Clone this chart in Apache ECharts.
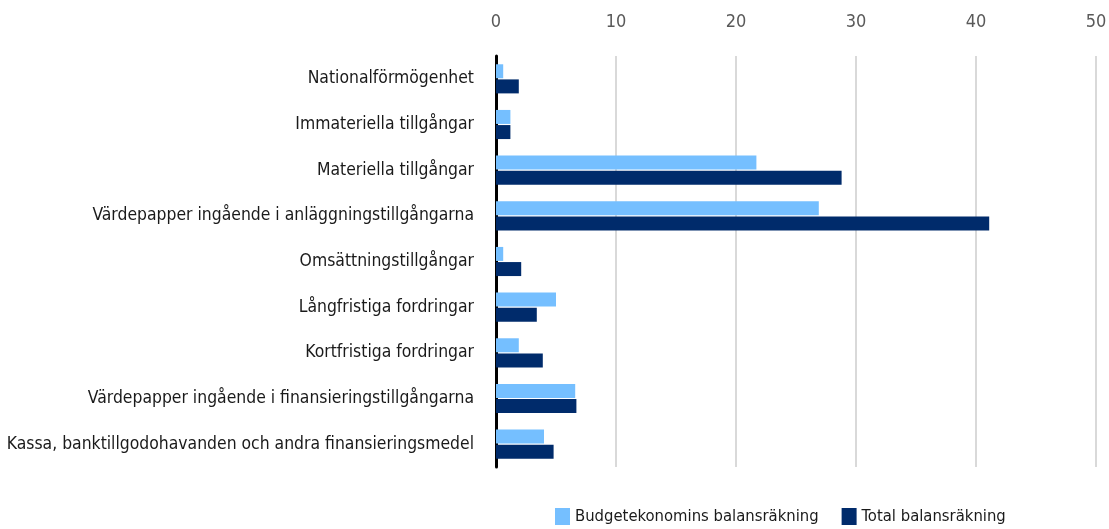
<!DOCTYPE html>
<html>
<head>
<meta charset="utf-8">
<script src="https://cdn.jsdelivr.net/npm/echarts@6/dist/echarts.min.js"></script>
<style>
  html, body { margin: 0; padding: 0; background: #fff; }
  #chart { width: 1109px; height: 529px; }
</style>
</head>
<body>
<div id="chart"></div>
<script>
// kategorier, uppifrån och ned
const categories = [
  'Nationalförmögenhet',
  'Immateriella tillgångar',
  'Materiella tillgångar',
  'Värdepapper ingående i anläggningstillgångarna',
  'Omsättningstillgångar',
  'Långfristiga fordringar',
  'Kortfristiga fordringar',
  'Värdepapper ingående i finansieringstillgångarna',
  'Kassa, banktillgodohavanden och andra finansieringsmedel'
]
const budgetValues = [0.6, 1.2, 21.7, 26.9, 0.6, 5.0, 1.9, 6.6, 4.0]
const totalValues = [1.9, 1.2, 28.8, 41.1, 2.1, 3.4, 3.9, 6.7, 4.8]
const seriesNames = ['Budgetekonomins balansräkning', 'Total balansräkning']

const font = '"Liberation Sans Narrow", "DejaVu Sans Condensed", sans-serif'
const lightBlue = '#75bfff'
const darkBlue = '#002b6b'

const myChart = echarts.init(document.getElementById('chart'), null, { renderer: 'canvas' })

const option = {
  backgroundColor: '#fff',
  animation: false,
  grid: { left: 496, right: 13, top: 56, bottom: 62, outerBoundsMode: 'none', containLabel: false },
  legend: {
    data: seriesNames,
    left: 550,
    top: 503,
    icon: 'rect',
    itemWidth: 15,
    itemHeight: 17,
    itemGap: 23,
    textStyle: { fontFamily: font, fontSize: 16.5, color: '#1a1a1a' }
  },
  xAxis: {
    type: 'value',
    position: 'top',
    min: 0,
    max: 50,
    interval: 10,
    axisLine: { show: false },
    axisTick: { show: false },
    axisLabel: { fontFamily: font, fontSize: 18, color: '#595959', margin: 25 },
    splitLine: { lineStyle: { color: '#d9d9d9', width: 2 } }
  },
  yAxis: {
    type: 'category',
    data: categories,
    inverse: true,
    axisLine: { show: true, lineStyle: { color: '#000', width: 3 } },
    axisTick: { show: false },
    axisLabel: { fontFamily: font, fontSize: 17.4, color: '#1a1a1a', margin: 22 }
  },
  series: [
    {
      name: seriesNames[0],
      type: 'bar',
      data: budgetValues,
      barWidth: 14,
      barGap: '8%',
      itemStyle: { color: lightBlue }
    },
    {
      name: seriesNames[1],
      type: 'bar',
      data: totalValues,
      barWidth: 14,
      barGap: '8%',
      itemStyle: { color: darkBlue }
    }
  ]
}

myChart.setOption(option)
</script>
</body>
</html>
